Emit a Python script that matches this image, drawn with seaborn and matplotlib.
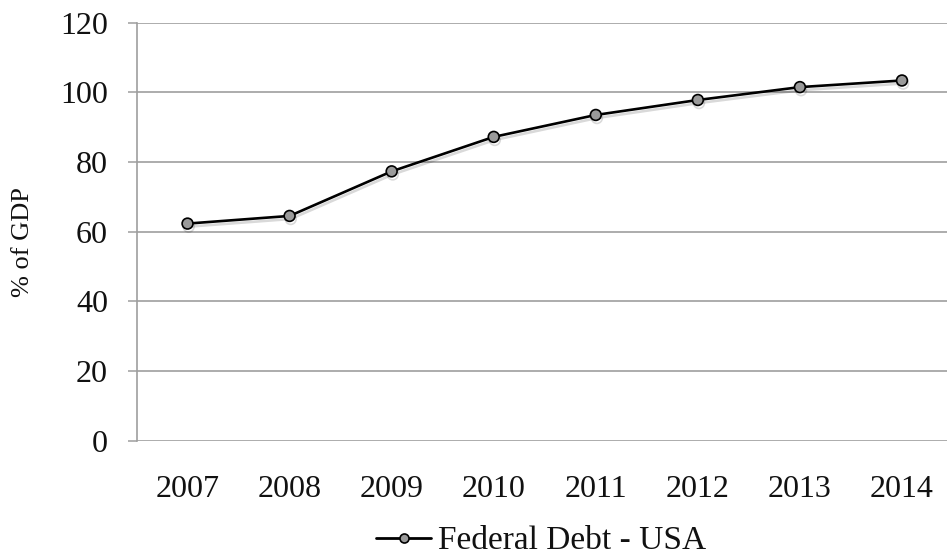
import matplotlib
matplotlib.use("Agg")
import matplotlib.pyplot as plt
import matplotlib.patheffects as pe
import seaborn as sns
import pandas as pd

# Federal debt as a share of GDP
years = [2007, 2008, 2009, 2010, 2011, 2012, 2013, 2014]
debt_pct_gdp = [62.3, 64.5, 77.3, 87.2, 93.5, 97.8, 101.5, 103.4]
series_name = "Federal Debt - USA"
y_ticks = [0, 20, 40, 60, 80, 100, 120]

df = pd.DataFrame({"year": years, "debt": debt_pct_gdp})

sns.set_theme(style="white")
plt.rcParams["font.family"] = ["Liberation Serif", "DejaVu Serif"]

fig = plt.figure(figsize=(9.47, 5.55), dpi=100)
ax = fig.add_axes([136.5 / 947, 1 - 440.5 / 555, (953 - 136.5) / 947, (440.5 - 22.7) / 555])

grid_col = "#9e9e9e"
sns.lineplot(
    data=df, x="year", y="debt", ax=ax,
    color="black", linewidth=1.9,
    marker="o", markersize=7.8, markerfacecolor="#9a9a9a",
    markeredgecolor="black", markeredgewidth=1.2,
    label=series_name, legend=False,
    path_effects=[pe.SimpleLineShadow(offset=(0.8, -2.2), shadow_color="black", alpha=0.15),
                  pe.Normal()],
)

ax.set_xlim(years[0] - 0.5, years[-1] + 0.5)
ax.set_ylim(0, 120)
ax.set_yticks(y_ticks)
ax.set_xticks(years)
ax.set_xticklabels([str(y) for y in years])

ax.yaxis.grid(True, color=grid_col, linewidth=1.2)
ax.set_axisbelow(True)
for side in ["top", "right", "bottom"]:
    ax.spines[side].set_visible(False)
ax.spines["left"].set_color(grid_col)
ax.spines["left"].set_linewidth(1.2)

ax.tick_params(axis="y", length=6.5, width=1.1, color=grid_col, pad=14,
               labelsize=23, labelcolor="#111111", left=True)
ax.tick_params(axis="x", length=0, pad=25, labelsize=23, labelcolor="#111111")

ax.set_xlabel("")
ax.set_ylabel("% of GDP", fontsize=19, color="#111111")
ax.yaxis.set_label_coords(-103 / 816.5, 0.475)

leg = fig.legend(
    handles=ax.get_lines()[:1], labels=[series_name],
    loc="center", bbox_to_anchor=(541 / 947, 1 - 541 / 555),
    frameon=False, fontsize=24, handlelength=1.65, handletextpad=0.2,
    borderpad=0, borderaxespad=0,
)
for h in leg.legend_handles:
    h.set_markersize(6.5)
    h.set_linewidth(2.0)
    h.set_path_effects([])
for t in leg.get_texts():
    t.set_color("#111111")

fig.savefig("out.png", dpi=100)
